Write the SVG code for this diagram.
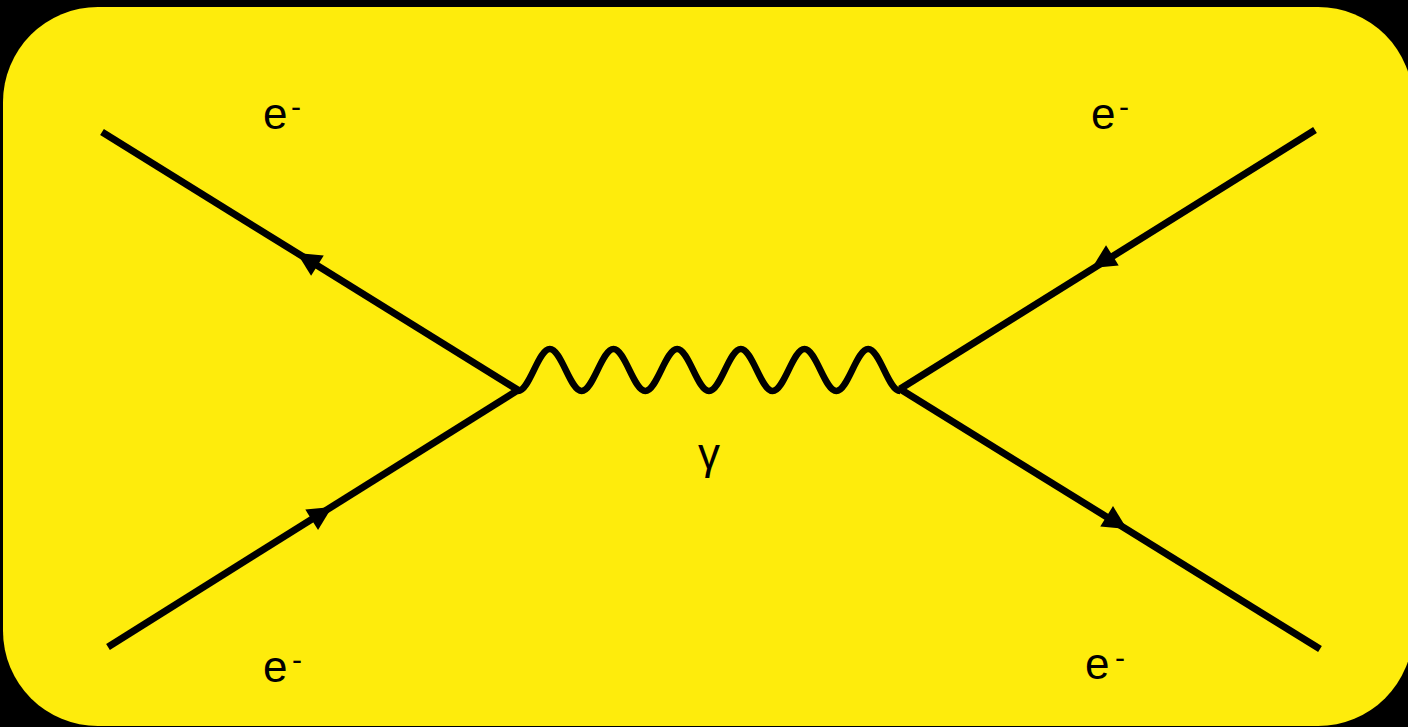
<svg xmlns="http://www.w3.org/2000/svg" width="1408" height="727" viewBox="0 0 1408 727">
  <style>
    .fermion { fill: none; stroke: #000; stroke-width: 7; stroke-linecap: butt; }
    .photon { fill: none; stroke: #000; stroke-width: 6.5; stroke-linejoin: round; }
    .lbl { font-family: "Liberation Sans", Arial, sans-serif; font-size: 44px; fill: #000; }
    .sup { font-family: "Liberation Sans", Arial, sans-serif; font-size: 30px; fill: #000; }
  </style>
  <defs>
    <path id="arrow" d="M0,0 L-24,-12 L-24,12 Z" fill="#000"/>
  </defs>
  <rect x="0" y="0" width="1408" height="727" fill="#000"/>
  <rect id="panel" x="3" y="7" width="1410" height="719" rx="95" ry="95" fill="#FEEC0C"/>

  <g id="connectors">
    <line class="fermion" x1="102" y1="132" x2="518" y2="390"/>
    <line class="fermion" x1="108" y1="647" x2="518" y2="390"/>
    <line class="fermion" x1="1315" y1="130" x2="900" y2="389"/>
    <line class="fermion" x1="1320" y1="649" x2="900" y2="389"/>
    <path class="photon" d="M518,391 C529.59,391 538.24,349 549.83,349 C561.42,349 570.08,391 581.67,391 C593.26,391 601.91,349 613.5,349 C625.09,349 633.74,391 645.33,391 C656.92,391 665.58,349 677.17,349 C688.76,349 697.41,391 709,391 C720.59,391 729.24,349 740.83,349 C752.42,349 761.08,391 772.67,391 C784.26,391 792.91,349 804.5,349 C816.09,349 824.74,391 836.33,391 C847.92,391 856.58,349 868.17,349 C879.76,349 888.41,391 900,391"/>
    <use href="#arrow" transform="translate(297,253) rotate(-148.2)"/>
    <use href="#arrow" transform="translate(332,507) rotate(-32.1)"/>
    <use href="#arrow" transform="translate(1092,268) rotate(148.1)"/>
    <use href="#arrow" transform="translate(1127,529) rotate(32)"/>
  </g>

  <g id="label-e-top-left">
    <text class="lbl" x="263" y="129">e</text>
    <text class="sup" x="291" y="117">-</text>
  </g>
  <g id="label-e-top-right">
    <text class="lbl" x="1091" y="129">e</text>
    <text class="sup" x="1119" y="117">-</text>
  </g>
  <g id="label-e-bottom-left">
    <text class="lbl" x="263" y="682">e</text>
    <text class="sup" x="292" y="670">-</text>
  </g>
  <g id="label-e-bottom-right">
    <text class="lbl" x="1085" y="679">e</text>
    <text class="sup" x="1115" y="668">-</text>
  </g>
  <g id="label-gamma">
    <text class="lbl" x="709" y="469" text-anchor="middle">γ</text>
  </g>
</svg>
